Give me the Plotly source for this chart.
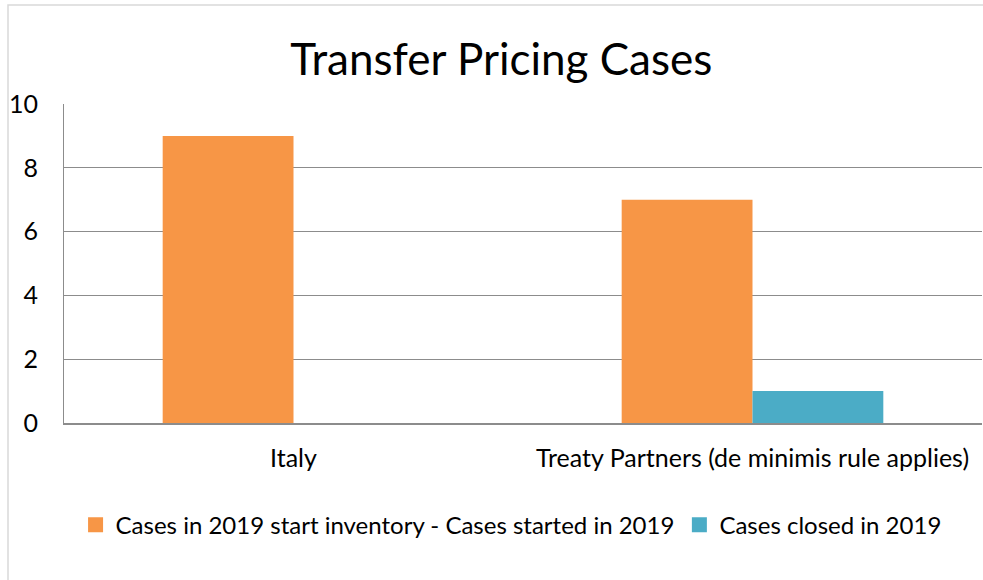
import plotly.graph_objects as go

categories = ["Italy", "Treaty Partners (de minimis rule applies)"]
series_names = ["Cases in 2019 start inventory - Cases started in 2019", "Cases closed in 2019"]
started = [9, 7]
closed = [0, 1]
colors = ["#F79646", "#4BACC6"]
y_ticks = [0, 2, 4, 6, 8, 10]

FONT = "Lato, Carlito, Calibri, sans-serif"

fig = go.Figure()
for vals, name, col in zip([started, closed], series_names, colors):
    fig.add_trace(go.Bar(x=categories, y=vals, name=name, showlegend=False,
                         marker=dict(color=col, line=dict(width=0))))
# legend entries with larger square swatches
for name, col in zip(series_names, colors):
    fig.add_trace(go.Scatter(x=[None], y=[None], mode="markers", name=name,
                             marker=dict(symbol="square", size=15, color=col), hoverinfo="skip"))

fig.update_layout(
    width=983, height=580,
    margin=dict(l=64, r=1, t=104, b=157),
    paper_bgcolor="white", plot_bgcolor="white",
    barmode="group", bargap=0.43, bargroupgap=0,
    font=dict(family=FONT, color="#000000", size=25),
    title=dict(text="Transfer Pricing Cases", x=0.51, xanchor="center", y=0.897, yanchor="middle",
               font=dict(family=FONT, size=44, color="#000000")),
    showlegend=True,
    legend=dict(orientation="h", x=0.487, xanchor="center", y=-0.32, yanchor="middle",
                font=dict(family=FONT, size=24), itemwidth=30, traceorder="normal"),
    shapes=[dict(type="rect", xref="paper", yref="paper", x0=-0.061, x1=1.2, y0=-0.7, y1=1.31,
                 line=dict(color="#D9D9D9", width=1.5), layer="below")],
)
fig.update_yaxes(range=[0, 10], tickvals=y_ticks, showgrid=True, gridcolor="#8C8C8C", gridwidth=1,
                 showline=True, linecolor="#8C8C8C", linewidth=1, zeroline=False,
                 ticks="", ticklabelstandoff=20, tickfont=dict(size=25))
fig.update_xaxes(showline=True, linecolor="#8C8C8C", linewidth=1.5, ticks="", ticklabelstandoff=12,
                 tickfont=dict(size=25))

fig.write_html("out.html", config={"displayModeBar": False},
               post_script="document.body.style.margin='0';document.body.style.overflow='hidden';")
